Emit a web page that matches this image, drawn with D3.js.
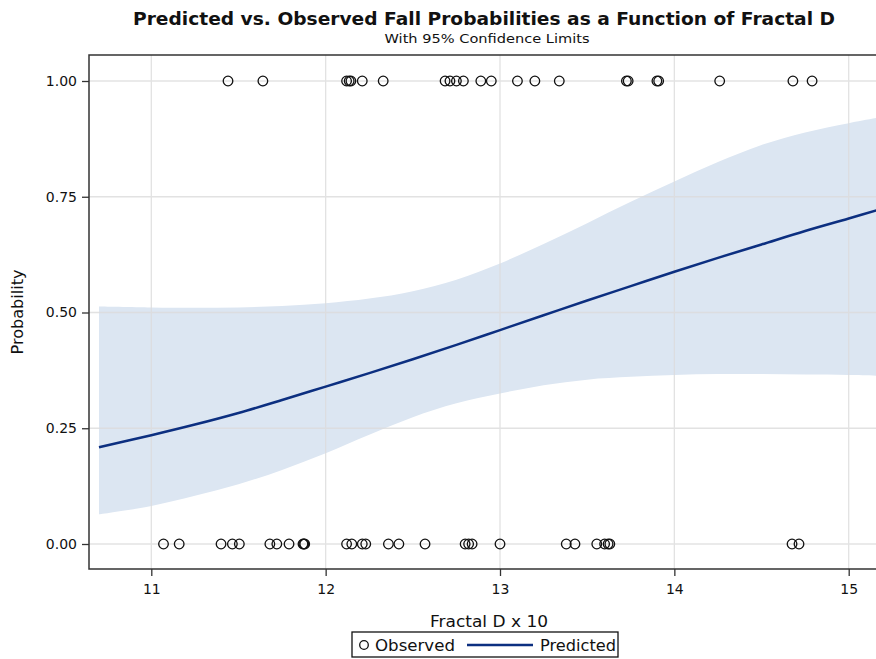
<!DOCTYPE html>
<html>
<head>
<meta charset="utf-8">
<script src="https://cdn.jsdelivr.net/npm/d3@7"></script>
<style>
  html, body { margin: 0; padding: 0; background: #fff; }
  svg { display: block; font-family: "DejaVu Sans", sans-serif; }
</style>
</head>
<body>
<svg id="chart" width="876" height="659"></svg>
<script>
// ---------- data ----------
const titleText = "Predicted vs. Observed Fall Probabilities as a Function of Fractal D";
const subtitleText = "With 95% Confidence Limits";
const xLabel = "Fractal D x 10";
const yLabel = "Probability";

const xTicks = [11, 12, 13, 14, 15];
const yTicks = [0, 0.25, 0.5, 0.75, 1.0];

// Observed events (Probability = 1)
const observedOneX = [11.44, 11.64, 12.12, 12.135, 12.145, 12.21, 12.33, 12.685, 12.713, 12.75,
  12.79, 12.89, 12.95, 13.10, 13.20, 13.34, 13.725, 13.735, 13.90, 13.91, 14.26, 14.68, 14.79];
// Observed non-events (Probability = 0)
const observedZeroX = [11.07, 11.16, 11.40, 11.465, 11.505, 11.68, 11.72, 11.79, 11.87, 11.875,
  11.88, 12.12, 12.15, 12.21, 12.23, 12.36, 12.42, 12.57, 12.80, 12.82, 12.84, 13.00, 13.38,
  13.43, 13.555, 13.60, 13.62, 13.63, 14.675, 14.715];

// Predicted curve and 95% confidence limits
const fitX = [10.70, 11.0, 11.25, 11.5, 11.75, 12.0, 12.25, 12.5, 12.75, 13.0, 13.25, 13.5,
  13.75, 14.0, 14.25, 14.5, 14.75, 15.0, 15.2];
const predicted = [0.209, 0.235, 0.258, 0.283, 0.311, 0.340, 0.369, 0.399, 0.430, 0.462, 0.494,
  0.526, 0.557, 0.588, 0.618, 0.647, 0.676, 0.703, 0.725];
const upperCL = [0.513, 0.511, 0.510, 0.511, 0.514, 0.520, 0.530, 0.546, 0.571, 0.606, 0.648,
  0.693, 0.739, 0.783, 0.825, 0.862, 0.889, 0.909, 0.923];
const lowerCL = [0.064, 0.082, 0.104, 0.129, 0.160, 0.196, 0.236, 0.274, 0.304, 0.325, 0.343,
  0.355, 0.361, 0.365, 0.367, 0.367, 0.366, 0.365, 0.363];

// ---------- layout ----------
const svg = d3.select("#chart");
const plot = { left: 89, top: 55, right: 892, bottom: 569 };
const bandColor = "#dce6f2";
const lineColor = "#0c2f80";
const gridColor = "#dcdcdc";
const axisColor = "#333";

const x = d3.scaleLinear().domain([11, 15]).range([151.3, 848.7]);
const y = d3.scaleLinear().domain([0, 1]).range([544, 81]);

svg.append("defs").append("clipPath").attr("id", "clip")
  .append("rect").attr("x", plot.left).attr("y", plot.top)
  .attr("width", plot.right - plot.left).attr("height", plot.bottom - plot.top);

const g = svg.append("g").attr("clip-path", "url(#clip)");

// confidence band
const fit = fitX.map((v, i) => ({ x: v, p: predicted[i], lo: lowerCL[i], hi: upperCL[i] }));
g.append("path").datum(fit)
  .attr("d", d3.area().x(d => x(d.x)).y0(d => y(d.lo)).y1(d => y(d.hi)).curve(d3.curveCatmullRom))
  .attr("fill", bandColor);

// gridlines (drawn over the band, faint)
const grid = g.append("g").attr("opacity", 0.8);
grid.selectAll("line.vg").data(xTicks).join("line")
  .attr("x1", d => x(d)).attr("x2", d => x(d))
  .attr("y1", plot.top).attr("y2", plot.bottom)
  .attr("stroke", gridColor).attr("stroke-width", 1.3);
grid.selectAll("line.hg").data(yTicks).join("line")
  .attr("x1", plot.left).attr("x2", plot.right)
  .attr("y1", d => y(d)).attr("y2", d => y(d))
  .attr("stroke", gridColor).attr("stroke-width", 1.3);

// predicted line
g.append("path").datum(fit)
  .attr("d", d3.line().x(d => x(d.x)).y(d => y(d.p)).curve(d3.curveCatmullRom))
  .attr("fill", "none").attr("stroke", lineColor).attr("stroke-width", 2.5);

// observed points
const obs = observedOneX.map(v => ({ x: v, y: 1 })).concat(observedZeroX.map(v => ({ x: v, y: 0 })));
g.selectAll("circle.obs").data(obs).join("circle")
  .attr("cx", d => x(d.x)).attr("cy", d => y(d.y)).attr("r", 4.8)
  .attr("fill", "none").attr("stroke", "#111").attr("stroke-width", 1.3);

// axes
const xAxis = svg.append("g").attr("transform", `translate(0,${plot.bottom})`)
  .call(d3.axisBottom(x).tickValues(xTicks).tickFormat(d3.format("d")).tickSize(7).tickPadding(8));
const yAxis = svg.append("g").attr("transform", `translate(${plot.left},0)`)
  .call(d3.axisLeft(y).tickValues(yTicks).tickFormat(d3.format(".2f")).tickSize(7).tickPadding(5));
[xAxis, yAxis].forEach(a => {
  a.attr("font-size", null).attr("font-family", null);
  a.select(".domain").remove();
  a.selectAll(".tick line").attr("stroke", axisColor).attr("stroke-width", 1.3);
  a.selectAll(".tick text").attr("fill", "#111").style("font-size", "14px")
    .style("font-family", "'DejaVu Sans', sans-serif");
});

// frame lines (left, bottom, top)
svg.append("path")
  .attr("d", `M${plot.right},${plot.top}H${plot.left}V${plot.bottom}H${plot.right}`)
  .attr("fill", "none").attr("stroke", axisColor).attr("stroke-width", 1.5);

// titles
svg.append("text").attr("x", 484).attr("y", 25).attr("text-anchor", "middle")
  .attr("font-weight", "bold").style("font-size", "17px").attr("fill", "#111")
  .attr("textLength", 702).attr("lengthAdjust", "spacingAndGlyphs").text(titleText);
svg.append("text").attr("x", 487).attr("y", 43).attr("text-anchor", "middle")
  .style("font-size", "13px").attr("fill", "#111")
  .attr("textLength", 205).attr("lengthAdjust", "spacingAndGlyphs").text(subtitleText);

// axis labels
svg.append("text").attr("x", 489).attr("y", 627).attr("text-anchor", "middle")
  .style("font-size", "15px").attr("fill", "#111")
  .attr("textLength", 118).attr("lengthAdjust", "spacingAndGlyphs").text(xLabel);
svg.append("text").attr("transform", "translate(23,312) rotate(-90)").attr("text-anchor", "middle")
  .style("font-size", "15px").attr("fill", "#111")
  .attr("textLength", 85).attr("lengthAdjust", "spacingAndGlyphs").text(yLabel);

// legend
const lg = svg.append("g");
lg.append("rect").attr("x", 352).attr("y", 632).attr("width", 266).attr("height", 25)
  .attr("fill", "#fff").attr("stroke", "#111").attr("stroke-width", 1.3);
lg.append("circle").attr("cx", 364).attr("cy", 645).attr("r", 4.3)
  .attr("fill", "none").attr("stroke", "#111").attr("stroke-width", 1.3);
lg.append("text").attr("x", 375).attr("y", 650.5).style("font-size", "15px").attr("fill", "#111")
  .attr("textLength", 80).attr("lengthAdjust", "spacingAndGlyphs").text("Observed");
lg.append("line").attr("x1", 467).attr("x2", 533).attr("y1", 645).attr("y2", 645)
  .attr("stroke", lineColor).attr("stroke-width", 2.5);
lg.append("text").attr("x", 540).attr("y", 650.5).style("font-size", "15px").attr("fill", "#111")
  .attr("textLength", 76).attr("lengthAdjust", "spacingAndGlyphs").text("Predicted");
</script>
</body>
</html>
